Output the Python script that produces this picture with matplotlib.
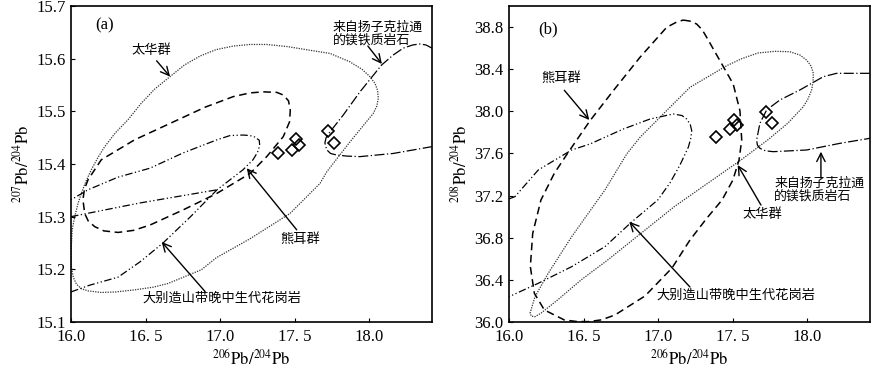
import matplotlib
matplotlib.use('Agg')
import matplotlib.pyplot as plt

plt.rcParams['font.family'] = ['Liberation Serif', 'DejaVu Serif']
plt.rcParams['mathtext.fontset'] = 'stix'
CJK = ['Noto Sans CJK SC', 'DejaVu Sans']

# measured samples (diamonds)
sample_206 = [17.39, 17.48, 17.51, 17.53, 17.72, 17.76]
sample_207 = [15.421, 15.427, 15.447, 15.437, 15.463, 15.439]
sample_208 = [37.76, 37.83, 37.92, 37.87, 37.99, 37.89]

# ---- panel (a): field outlines, 206Pb/204Pb vs 207Pb/204Pb
taihua_a_x = [16.002, 16.008, 16.025, 16.045, 16.069, 16.100, 16.136, 16.180, 16.226, 16.300,
              16.382, 16.470, 16.560, 16.664, 16.760, 16.865, 16.970, 17.088, 17.200, 17.312,
              17.450, 17.602, 17.736, 17.870, 17.950, 18.000, 18.038, 18.055, 18.060, 18.050,
              18.026, 17.870, 17.714, 17.669, 17.468, 17.200, 16.974, 16.873, 16.650, 16.550,
              16.427, 16.300, 16.203, 16.114, 16.070, 16.036, 16.015, 16.002, 16.002]
taihua_a_y = [15.243, 15.275, 15.300, 15.323, 15.344, 15.367, 15.389, 15.412, 15.433, 15.460,
              15.484, 15.515, 15.542, 15.566, 15.588, 15.605, 15.617, 15.624, 15.627, 15.627,
              15.623, 15.616, 15.610, 15.594, 15.580, 15.567, 15.553, 15.540, 15.525, 15.510,
              15.496, 15.442, 15.385, 15.363, 15.306, 15.258, 15.222, 15.199, 15.173, 15.166,
              15.161, 15.157, 15.156, 15.159, 15.163, 15.172, 15.185, 15.205, 15.243]

xionger_a_x = [17.289, 17.380, 17.423, 17.458, 17.470, 17.465, 17.423, 17.312, 17.200, 16.977,
               16.753, 16.529, 16.420, 16.315, 16.220, 16.159, 16.115, 16.092, 16.080, 16.090,
               16.114, 16.203, 16.427, 16.717, 16.900, 17.088, 17.200, 17.289]
xionger_a_y = [15.537, 15.536, 15.531, 15.520, 15.502, 15.480, 15.452, 15.414, 15.382, 15.344,
               15.313, 15.284, 15.274, 15.270, 15.273, 15.281, 15.292, 15.306, 15.332, 15.352,
               15.370, 15.408, 15.446, 15.484, 15.508, 15.528, 15.535, 15.537]

dabie_a_x = [16.000, 16.127, 16.315, 16.462, 16.617, 16.798, 16.979, 17.153, 17.220, 17.250,
             17.265, 17.262, 17.233, 17.200, 17.153, 17.066, 16.979, 16.751, 16.529, 16.315,
             16.114, 16.000]
dabie_a_y = [15.157, 15.170, 15.185, 15.214, 15.250, 15.299, 15.351, 15.389, 15.408, 15.422,
             15.435, 15.445, 15.451, 15.454, 15.455, 15.454, 15.446, 15.421, 15.392, 15.375,
             15.351, 15.332]
dabie_a2_x = [16.000, 16.462, 16.979]
dabie_a2_y = [15.300, 15.326, 15.351]

yangtze_a_x = [18.42, 18.380, 18.339, 18.290, 18.227, 18.160, 18.082, 17.937, 17.825, 17.736,
               17.710, 17.702, 17.714, 17.740, 17.781, 17.850, 17.937, 18.160, 18.42]
yangtze_a_y = [15.620, 15.626, 15.628, 15.626, 15.620, 15.607, 15.588, 15.537, 15.493, 15.461,
               15.450, 15.440, 15.427, 15.420, 15.417, 15.415, 15.414, 15.420, 15.433]

# ---- panel (b): 206Pb/204Pb vs 208Pb/204Pb
taihua_b_x = [16.141, 16.174, 16.263, 16.420, 16.643, 16.789, 16.878, 17.034, 17.213, 17.459,
              17.560, 17.669, 17.780, 17.883, 17.950, 17.995, 18.025, 18.040, 18.038, 18.029,
              18.005, 17.973, 17.868, 17.734, 17.555, 17.332, 17.108, 16.885, 16.662, 16.483,
              16.326, 16.214, 16.174, 16.150, 16.141]
taihua_b_y = [36.083, 36.240, 36.462, 36.810, 37.253, 37.595, 37.753, 37.975, 38.228, 38.433,
              38.500, 38.554, 38.570, 38.566, 38.535, 38.487, 38.430, 38.361, 38.280, 38.203,
              38.120, 38.044, 37.886, 37.728, 37.538, 37.317, 37.095, 36.842, 36.589, 36.399,
              36.209, 36.083, 36.050, 36.055, 36.083]

xionger_b_x = [17.168, 17.220, 17.258, 17.295, 17.325, 17.414, 17.503, 17.548, 17.560, 17.542,
               17.501, 17.428, 17.327, 17.213, 17.093, 16.912, 16.710, 16.620, 16.530, 16.450,
               16.371, 16.237, 16.170, 16.143, 16.159, 16.214, 16.304, 16.393, 16.543, 16.699,
               16.878, 17.057, 17.120, 17.168]
xionger_b_y = [38.867, 38.855, 38.829, 38.775, 38.703, 38.481, 38.259, 38.006, 37.728, 37.538,
               37.348, 37.158, 36.987, 36.778, 36.513, 36.247, 36.066, 36.020, 36.003, 36.005,
               36.019, 36.114, 36.272, 36.525, 36.842, 37.158, 37.412, 37.602, 37.911, 38.196,
               38.513, 38.798, 38.845, 38.867]

dabie_b_x = [16.000, 16.040, 16.196, 16.420, 16.543, 16.766, 16.945, 17.101, 17.160, 17.191,
             17.215, 17.225, 17.218, 17.202, 17.146, 17.079, 16.997, 16.822, 16.643, 16.420,
             16.196, 16.000]
dabie_b_y = [37.168, 37.190, 37.443, 37.633, 37.690, 37.832, 37.927, 37.975, 37.960, 37.927,
             37.875, 37.816, 37.740, 37.659, 37.490, 37.320, 37.158, 36.949, 36.715, 36.525,
             36.367, 36.240]

yangtze_b_x = [18.42, 18.196, 18.107, 17.950, 17.816, 17.727, 17.682, 17.660, 17.665, 17.682,
               17.720, 17.771, 17.995, 18.218, 18.42]
yangtze_b_y = [38.361, 38.361, 38.329, 38.203, 38.108, 38.013, 37.886, 37.728, 37.680, 37.649,
               37.625, 37.617, 37.633, 37.696, 37.744]

xticks = [16.0, 16.5, 17.0, 17.5, 18.0]
xtick_labels = ['16.0', '16. 5', '17.0', '17. 5', '18.0']
yticks_a = [15.1, 15.2, 15.3, 15.4, 15.5, 15.6, 15.7]
yticks_b = [36.0, 36.4, 36.8, 37.2, 37.6, 38.0, 38.4, 38.8]

names = ['太华群', '熊耳群', '大别造山带晚中生代花岗岩', '来自扬子克拉通\n的镁铁质岩石']

# line styles for each field
s_taihua = dict(color='0.2', lw=0.9, ls=(0, (1, 1)))
s_xionger = dict(color='k', lw=1.1, ls=(0, (5, 3)))
s_dabie = dict(color='k', lw=0.9, ls=(0, (6, 2, 1, 2, 1, 2)))
s_yangtze = dict(color='k', lw=0.9, ls=(0, (8, 2, 1, 2)))
arrow = dict(arrowstyle='->,head_length=0.6,head_width=0.3', color='k', lw=1.0,
             shrinkA=0, shrinkB=0)

fig = plt.figure(figsize=(8.82, 3.77), dpi=100)
ax = fig.add_axes([0.0805, 0.146, 0.4093, 0.838])
ax1 = fig.add_axes([0.5771, 0.146, 0.4093, 0.838])

for axis in (ax, ax1):
    axis.set_xlim(16.0, 18.42)
    axis.set_xticks(xticks)
    axis.set_xticklabels(xtick_labels)
    axis.tick_params(direction='in', length=3, labelsize=12)
    axis.tick_params(axis='x', pad=5)
    axis.tick_params(axis='y', pad=4)
    for sp in axis.spines.values():
        sp.set_linewidth(1.2)
    axis.set_xlabel(r'$^{206}\mathrm{Pb}/^{204}\mathrm{Pb}$', fontsize=12, labelpad=3)

# panel (a)
ax.plot(taihua_a_x, taihua_a_y, **s_taihua)
ax.plot(xionger_a_x, xionger_a_y, **s_xionger)
ax.plot(dabie_a_x, dabie_a_y, **s_dabie)
ax.plot(dabie_a2_x, dabie_a2_y, **s_dabie)
ax.plot(yangtze_a_x, yangtze_a_y, **s_yangtze)
ax.plot(sample_206, sample_207, 'D', ms=6.5, mfc='none', mec='k', mew=1.2)
ax.set_ylim(15.1, 15.7)
ax.set_yticks(yticks_a)
ax.set_yticklabels(['%.1f' % v for v in yticks_a])
ax.set_ylabel(r'$^{207}\mathrm{Pb}/^{204}\mathrm{Pb}$', fontsize=12, labelpad=3)
ax.text(0.066, 0.94, '(a)', transform=ax.transAxes, fontsize=12, ha='left', va='center')

ax.text(16.54, 15.616, names[0], family=CJK, fontsize=9.5, ha='center', va='center')
ax.annotate('', xy=(16.664, 15.566), xytext=(16.574, 15.596), arrowprops=arrow)
ax.text(17.535, 15.256, names[1], family=CJK, fontsize=9.5, ha='center', va='center')
ax.annotate('', xy=(17.178, 15.392), xytext=(17.513, 15.275), arrowprops=arrow)
ax.text(17.01, 15.145, names[2], family=CJK, fontsize=9.5, ha='center', va='center')
ax.annotate('', xy=(16.608, 15.252), xytext=(16.898, 15.158), arrowprops=arrow)
ax.text(17.756, 15.648, names[3], family=CJK, fontsize=9.3, ha='left', va='center',
        linespacing=1.0)
ax.annotate('', xy=(18.084, 15.590), xytext=(17.99, 15.624), arrowprops=arrow)

# panel (b)
ax1.plot(taihua_b_x, taihua_b_y, **s_taihua)
ax1.plot(xionger_b_x, xionger_b_y, **s_xionger)
ax1.plot(dabie_b_x, dabie_b_y, **s_dabie)
ax1.plot(yangtze_b_x, yangtze_b_y, **s_yangtze)
ax1.plot(sample_206, sample_208, 'D', ms=6.5, mfc='none', mec='k', mew=1.2)
ax1.set_ylim(36.0, 39.0)
ax1.set_yticks(yticks_b)
ax1.set_yticklabels(['%.1f' % v for v in yticks_b])
ax1.set_ylabel(r'$^{208}\mathrm{Pb}/^{204}\mathrm{Pb}$', fontsize=12, labelpad=3)
ax1.text(0.08, 0.925, '(b)', transform=ax1.transAxes, fontsize=12, ha='left', va='center')

ax1.text(16.349, 38.314, names[1], family=CJK, fontsize=9.5, ha='center', va='center')
ax1.annotate('', xy=(16.538, 37.918), xytext=(16.371, 38.20), arrowprops=arrow)
ax1.text(17.70, 37.016, names[0], family=CJK, fontsize=9.5, ha='center', va='center')
ax1.annotate('', xy=(17.533, 37.490), xytext=(17.689, 37.11), arrowprops=arrow)
ax1.text(17.521, 36.256, names[2], family=CJK, fontsize=9.5, ha='center', va='center')
ax1.annotate('', xy=(16.806, 36.952), xytext=(17.213, 36.332), arrowprops=arrow)
ax1.text(17.778, 37.256, names[3], family=CJK, fontsize=9.3, ha='left', va='center',
         linespacing=1.0)
ax1.annotate('', xy=(18.091, 37.617), xytext=(18.091, 37.367), arrowprops=arrow)

fig.savefig('out.png', dpi=100)
